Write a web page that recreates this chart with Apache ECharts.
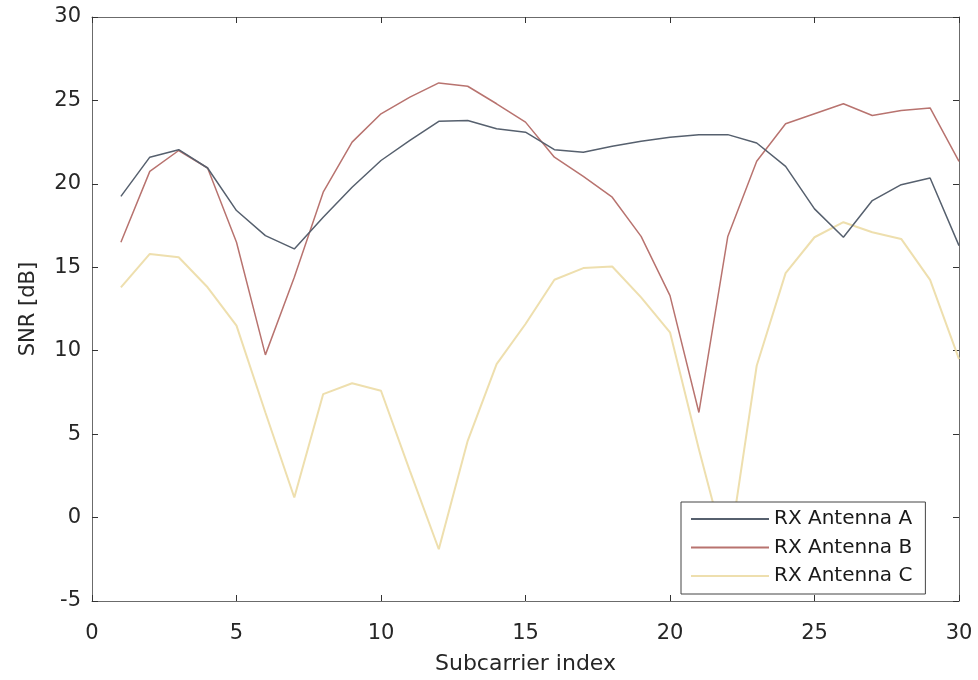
<!DOCTYPE html>
<html>
<head>
<meta charset="utf-8">
<script src="https://cdn.jsdelivr.net/npm/echarts@6/dist/echarts.min.js"></script>
<style>
html,body{margin:0;padding:0;background:#fff;}
#chart{width:978px;height:680px;}
</style>
</head>
<body>
<div id="chart"></div>
<script>
const subcarriers = [1,2,3,4,5,6,7,8,9,10,11,12,13,14,15,16,17,18,19,20,21,22,23,24,25,26,27,28,29,30];
const antennaA = [19.25,21.6,22.05,20.95,18.4,16.9,16.1,18.0,19.8,21.4,22.6,23.75,23.8,23.3,23.1,22.05,21.9,22.25,22.55,22.8,22.95,22.95,22.45,21.05,18.5,16.8,19.0,19.95,20.35,16.3];
const antennaB = [16.5,20.75,22.0,20.95,16.5,9.75,14.4,19.5,22.5,24.2,25.2,26.05,25.85,24.8,23.7,21.6,20.45,19.2,16.85,13.3,6.3,16.85,21.35,23.6,24.2,24.8,24.1,24.4,24.55,21.35];
const antennaC = [13.8,15.8,15.6,13.8,11.5,6.3,1.2,7.4,8.05,7.6,2.8,-1.9,4.6,9.2,11.6,14.25,14.95,15.05,13.2,11.1,4.1,-2.5,9.1,14.65,16.8,17.7,17.1,16.7,14.25,9.5];
const seriesNames = ['RX Antenna A','RX Antenna B','RX Antenna C'];
const xTicks = [0,5,10,15,20,25,30];
const yTicks = [-5,0,5,10,15,20,25,30];

const colors = ['#56606e','#b8736f','#eedfae'];
const font = 'DejaVu Sans';
const pairs = arr => subcarriers.map((x,i)=>[x,arr[i]]);

const boxAxis = () => ({
  axisLine:{show:true,onZero:false,lineStyle:{color:'#6b6b6b',width:1}},
  axisTick:{show:true,inside:true,length:6,lineStyle:{color:'#333',width:1}},
  splitLine:{show:false}
});

const chart = echarts.init(document.getElementById('chart'));
chart.setOption({
  animation:false,
  backgroundColor:'#fff',
  grid:{left:92,right:19,top:17,bottom:70,containLabel:false},
  legend:{
    orient:'vertical',
    left:681, top:502,
    data:seriesNames,
    itemWidth:78, itemHeight:20, itemGap:8.5, itemTextGap:10,
    padding:[7,13,8,9],
    borderColor:'#444', borderWidth:1, backgroundColor:'#fff',
    itemStyle:{opacity:0},
    textStyle:{fontFamily:font,fontSize:20,color:'#1a1a1a',lineHeight:20}
  },
  xAxis:[
    Object.assign(boxAxis(),{type:'value',min:xTicks[0],max:xTicks[xTicks.length-1],interval:5,position:'bottom',
      name:'Subcarrier index',nameLocation:'middle',nameGap:52,
      nameTextStyle:{fontFamily:font,fontSize:22,color:'#262626'},
      axisLabel:{fontFamily:font,fontSize:21,color:'#262626',margin:22}}),
    Object.assign(boxAxis(),{type:'value',min:xTicks[0],max:xTicks[xTicks.length-1],interval:5,position:'top',
      axisLabel:{show:false}})
  ],
  yAxis:[
    Object.assign(boxAxis(),{type:'value',min:yTicks[0],max:yTicks[yTicks.length-1],interval:5,position:'left',
      name:'SNR [dB]',nameLocation:'middle',nameGap:53,nameRotate:90,
      nameTextStyle:{fontFamily:font,fontSize:21,color:'#262626'},
      axisLabel:{fontFamily:font,fontSize:21,color:'#262626',margin:11}}),
    Object.assign(boxAxis(),{type:'value',min:yTicks[0],max:yTicks[yTicks.length-1],interval:5,position:'right',
      axisLabel:{show:false}})
  ],
  series:[antennaA,antennaB,antennaC].map((arr,i)=>({
    name:seriesNames[i],
    type:'line',
    xAxisIndex:0,yAxisIndex:0,
    data:pairs(arr),
    symbol:'none',
    showSymbol:false,
    lineStyle:{color:colors[i],width:i===2?2:1.5},
    itemStyle:{color:colors[i]},
    z:3-i
  }))
});
</script>
</body>
</html>
